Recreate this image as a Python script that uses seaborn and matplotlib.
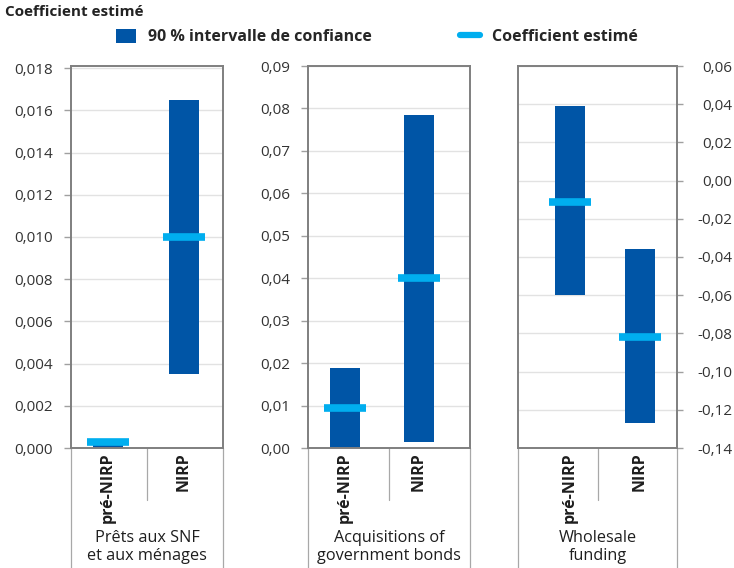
import numpy as np
import pandas as pd
import matplotlib
matplotlib.use("Agg")
import matplotlib.pyplot as plt
import seaborn as sns
from matplotlib.patches import Patch
from matplotlib.lines import Line2D
from matplotlib.ticker import FuncFormatter

# ---------------- data ----------------
periods = ["pré-NIRP", "NIRP"]
panel_titles = ["Prêts aux SNF\net aux ménages",
                "Acquisitions of\ngovernment bonds",
                "Wholesale\nfunding"]

loans_low = [0.0, 0.0035]
loans_high = [0.00025, 0.0165]
loans_est = [0.0003, 0.0100]

bonds_low = [0.0, 0.0014]
bonds_high = [0.0188, 0.0784]
bonds_est = [0.0094, 0.0400]

wholesale_low = [-0.060, -0.127]
wholesale_high = [0.039, -0.036]
wholesale_est = [-0.011, -0.082]

y_limits = [(0.0, 0.0181), (0.0, 0.09), (-0.14, 0.06)]
y_steps = [0.002, 0.01, 0.02]
y_decimals = [3, 2, 2]

title = "Coefficient estimé"
legend_labels = ["90 % intervalle de confiance", "Coefficient estimé"]

# ---------------- style ----------------
DARK = "#0055a6"
LIGHT = "#00aeef"
SPINE = "#7f7f7f"
GRID = "#e2e2e2"
TXT = "#333333"

sns.set_style("white")
plt.rcParams["font.family"] = ["Open Sans", "DejaVu Sans"]

W, H = 734, 568
fig = plt.figure(figsize=(W / 100, H / 100), dpi=100)

boxes = [(71, 223), (308, 470), (518, 677)]
top_px, bot_px = 66, 448
xlims = [(-0.487, 1.513), (-0.5, 1.69), (-0.743, 1.53)]

lows = [loans_low, bonds_low, wholesale_low]
highs = [loans_high, bonds_high, wholesale_high]
ests = [loans_est, bonds_est, wholesale_est]


def make_fmt(d):
    def f(v, p):
        s = f"{v:.{d}f}".replace(".", ",")
        if abs(v) < 1e-12:
            s = s.lstrip("-")
        return s
    return FuncFormatter(f)


for i in range(3):
    x0, x1 = boxes[i]
    ax = fig.add_axes([x0 / W, (H - bot_px) / H, (x1 - x0) / W, (bot_px - top_px) / H])
    df = pd.DataFrame({"period": periods, "low": lows[i], "high": highs[i], "est": ests[i]})
    df["span"] = df["high"] - df["low"]

    px_per_unit = (x1 - x0) / (xlims[i][1] - xlims[i][0])
    bw = 30 / px_per_unit
    ew = 42 / px_per_unit

    sns.barplot(data=df, x="period", y="span", bottom=df["low"].values, color=DARK,
                width=bw, errorbar=None, saturation=1, linewidth=0, ax=ax, zorder=2)
    xpos = np.arange(len(periods))
    ax.hlines(df["est"], xpos - ew / 2, xpos + ew / 2, colors=LIGHT, lw=5.5, zorder=3)

    ax.set_xlim(*xlims[i])
    ax.set_ylim(*y_limits[i])
    lo, hi = y_limits[i]
    ticks = np.round(np.arange(lo, hi + 1e-9, y_steps[i]), 6)
    ax.set_yticks(ticks)
    ax.yaxis.set_major_formatter(make_fmt(y_decimals[i]))
    ax.set(xlabel="", ylabel="")

    ax.yaxis.grid(True, color=GRID, lw=1.0)
    ax.xaxis.grid(False)
    ax.set_axisbelow(True)
    for s in ax.spines.values():
        s.set_visible(True)
        s.set_color(SPINE)
        s.set_linewidth(1.4)

    ax.set_xticks(xpos)
    ax.set_xticklabels(periods, rotation=90, fontweight="bold", fontsize=11.5, color="#1e1e1e")
    ax.tick_params(axis="x", length=0, pad=3)

    if i < 2:
        ax.tick_params(axis="y", length=5, width=1, color="#a0a0a0", labelsize=11,
                       labelcolor=TXT, pad=8, left=True)
    else:
        ax.yaxis.tick_right()
        ax.tick_params(axis="y", length=4, width=1, color="#a0a0a0", labelsize=11,
                       labelcolor=TXT, pad=36, right=True, left=False)
        plt.setp(ax.get_yticklabels(), ha="right")

    # boxes below the axes
    frac_down = (H - bot_px) / (bot_px - top_px)
    for xx in (0, 1):
        ax.plot([xx, xx], [0, -frac_down], transform=ax.transAxes, clip_on=False,
                color="#a8a8a8", lw=0.9)
    ax.plot([0.5, 0.5], [0, -(500 - bot_px) / (bot_px - top_px)], transform=ax.transAxes,
            clip_on=False, color="#a8a8a8", lw=0.9)

    ax.text(0.5, -(547 - bot_px) / (bot_px - top_px), panel_titles[i], transform=ax.transAxes,
            ha="center", va="center", fontsize=11.7, color="#1e1e1e", linespacing=1.15)

fig.text(5 / W, 1 - 12 / H, title, ha="left", va="center", fontsize=11,
         fontweight="bold", color="#222222")

handles = [Patch(facecolor=DARK, edgecolor="none"), Line2D([0], [0], color=LIGHT, lw=4.5)]
fig.legend(handles, legend_labels, loc="center left", bbox_to_anchor=(116 / W, 1 - 37 / H),
           ncol=2, frameon=False, handlelength=1.25, handleheight=1.05, handletextpad=0.75,
           columnspacing=5.5, borderpad=0, borderaxespad=0,
           prop=dict(weight="bold", size=11.5))

fig.savefig("out.png", dpi=100)
